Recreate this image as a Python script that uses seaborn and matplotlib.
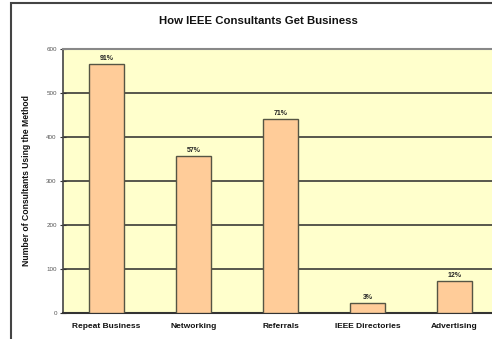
import matplotlib
matplotlib.use("Agg")
import matplotlib.pyplot as plt
import seaborn as sns
from matplotlib.patches import Rectangle

categories = ["Repeat Business", "Networking", "Referrals", "IEEE Directories", "Advertising"]
counts = [566, 357, 441, 23, 73]
percent_labels = ["91%", "57%", "71%", "3%", "12%"]
y_ticks = [0, 100, 200, 300, 400, 500, 600]

sns.set_style("white")
plt.rcParams['font.family'] = ['Liberation Sans', 'DejaVu Sans']

W, H = 492, 339
fig = plt.figure(figsize=(W / 100, H / 100), dpi=100)
fig.patch.set_facecolor("white")

ax = fig.add_axes([63 / W, (H - 313) / H, 435 / W, (313 - 49) / H])
ax.set_facecolor("#FFFFCC")

sns.barplot(x=categories, y=counts, color="#FFCC99", saturation=1, width=0.41,
            edgecolor="#555544", linewidth=1.0, ax=ax, zorder=3)

ax.set_ylim(0, 600)
ax.set_xlim(-0.5, len(categories) - 0.5)
ax.set_yticks(y_ticks)
ax.yaxis.grid(True, color="#2a2a2a", linewidth=1.1, zorder=0)
ax.set_axisbelow(True)

for i, (v, lab) in enumerate(zip(counts, percent_labels)):
    ax.text(i, v + 4, lab, ha="center", va="bottom", fontsize=5, fontweight="bold", color="#222222")

for s in ["right"]:
    ax.spines[s].set_visible(False)
ax.spines["top"].set_color("#888888")
ax.spines["top"].set_linewidth(1.5)
ax.spines["left"].set_color("#444444")
ax.spines["left"].set_linewidth(1.2)
ax.spines["bottom"].set_color("#333333")
ax.spines["bottom"].set_linewidth(1.5)

ax.tick_params(axis="y", direction="inout", length=5, width=0.8, color="#333333",
               labelsize=4.5, labelcolor="#555555", pad=2, left=True)
ax.tick_params(axis="x", length=0, labelsize=6, pad=7)
for t in ax.get_xticklabels():
    t.set_fontweight("bold")
    t.set_color("#111111")

ax.set_xlabel("")
ax.set_ylabel("Number of Consultants Using the Method", fontsize=6.2, fontweight="bold",
              color="#111111", labelpad=11)

fig.text(258 / W, 1 - 21 / H, "How IEEE Consultants Get Business", ha="center", va="center",
         fontsize=8.2, fontweight="bold", color="#111111")

fig.patches.append(Rectangle((10.5 / W, -0.1), 1.2, 1 - 3.5 / H + 0.1, transform=fig.transFigure,
                             fill=False, edgecolor="#444444", linewidth=1.5, clip_on=False))

fig.savefig("out.png", dpi=100)
